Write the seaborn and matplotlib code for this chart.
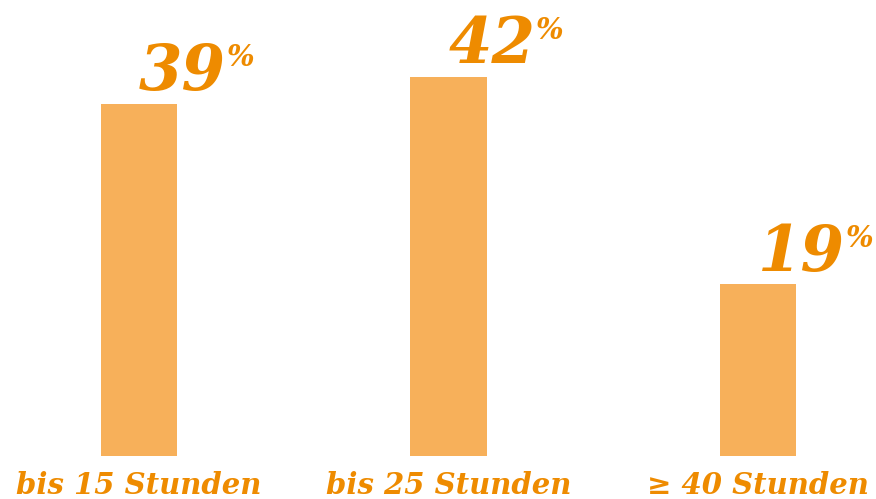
import matplotlib
matplotlib.use("Agg")
import matplotlib.pyplot as plt
import seaborn as sns
import pandas as pd

categories = ["bis 15 Stunden", "bis 25 Stunden", "≥ 40 Stunden"]
values = [39, 42, 19]

bar_color = "#F7B05A"
text_color = "#EE8B00"

sns.set_theme(style="white")
plt.rcParams["font.family"] = ["DejaVu Serif", "Liberation Serif"]

df = pd.DataFrame({"cat": categories, "val": values})

fig = plt.figure(figsize=(8.76, 4.99), dpi=100)
ax = fig.add_axes([0, (499 - 456) / 499, 1, 456 / 499])
sns.barplot(data=df, x="cat", y="val", color=bar_color, saturation=1,
            width=0.2456, ax=ax, linewidth=0)

ax.set_xlim(-139 / 309.5, (876 - 139) / 309.5)
ax.set_ylim(0, 456 / 9.03)
for s in ax.spines.values():
    s.set_visible(False)
ax.set_yticks([])
ax.set_xlabel("")
ax.set_ylabel("")
ax.tick_params(axis="x", length=0, pad=11)
ax.set_xticks(range(len(categories)))
ax.set_xticklabels(categories, fontsize=21, fontweight="bold", fontstyle="italic",
                   color=text_color)

for i, v in enumerate(values):
    t = ax.annotate(f"{v}", xy=(i, v), xytext=(0, 10), textcoords="offset points",
                    ha="left", va="baseline", fontsize=45, fontweight="bold",
                    fontstyle="italic", color=text_color)
    ax.annotate("%", xy=(1, 1), xycoords=t, xytext=(0.5, -1), textcoords="offset points",
                ha="left", va="top", fontsize=21, fontweight="bold",
                fontstyle="italic", color=text_color)

fig.savefig("out.png", dpi=100)
